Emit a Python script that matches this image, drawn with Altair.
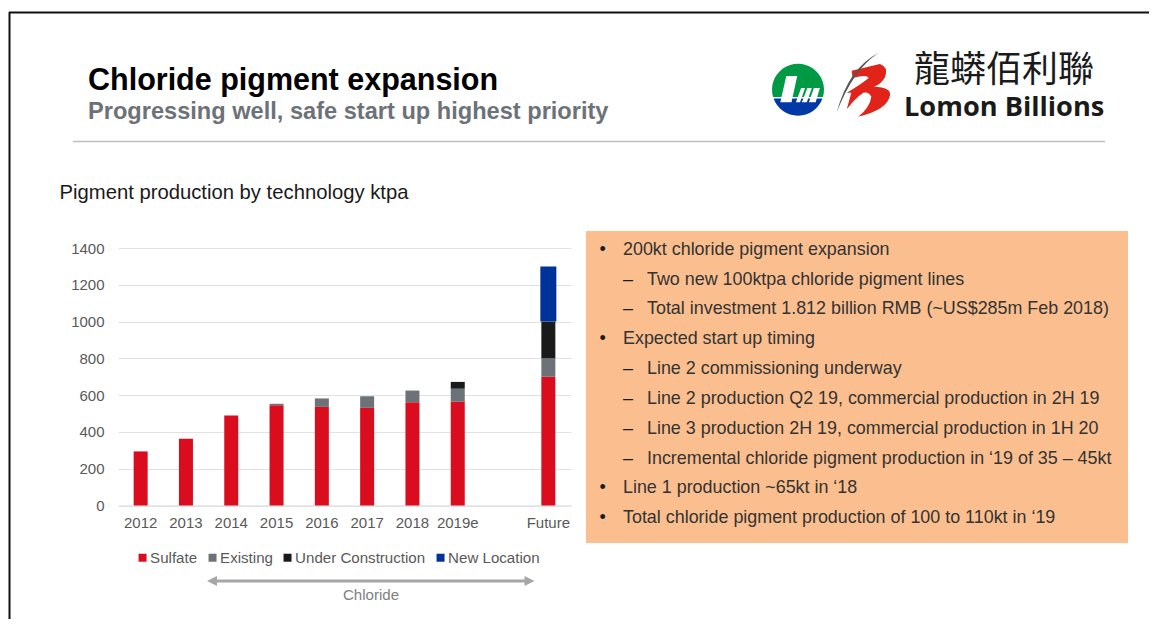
import altair as alt
import pandas as pd

FONT = "Liberation Sans"
categories = ["2012", "2013", "2014", "2015", "2016", "2017", "2018", "2019e", " ", "Future"]
series = ["Sulfate", "Existing", "Under Construction", "New Location"]
sulfate = [294, 363, 489, 545, 536, 531, 562, 564, None, 700]
existing = [0, 0, 0, 8, 46, 63, 63, 71, None, 100]
under_construction = [0, 0, 0, 0, 0, 0, 0, 37, None, 200]
new_location = [0, 0, 0, 0, 0, 0, 0, 0, None, 300]
colors = ["#DA0D1F", "#6D7278", "#1A1A1A", "#003399"]
y_ticks = [0, 200, 400, 600, 800, 1000, 1200, 1400]

bullets = [
    ("•", "200kt chloride pigment expansion", 0),
    ("–", "Two new 100ktpa chloride pigment lines", 1),
    ("–", "Total investment 1.812 billion RMB (~US$285m Feb 2018)", 1),
    ("•", "Expected start up timing", 0),
    ("–", "Line 2 commissioning underway", 1),
    ("–", "Line 2 production Q2 19, commercial production in 2H 19", 1),
    ("–", "Line 3 production 2H 19, commercial production in 1H 20", 1),
    ("–", "Incremental chloride pigment production in ‘19 of 35 – 45kt", 1),
    ("•", "Line 1 production ~65kt in ‘18", 0),
    ("•", "Total chloride pigment production of 100 to 110kt in ‘19", 0),
]
bullet_y = [249.5, 279.5, 308.5, 338.5, 368.5, 398.5, 428.5, 458.5, 487.5, 517.5]

rows = []
for i, c in enumerate(categories):
    for j, (s, vals) in enumerate(zip(series, [sulfate, existing, under_construction, new_location])):
        rows.append({"cat": c, "series": s, "value": vals[i], "k": j})
df = pd.DataFrame(rows)

# plot area is at page x 118..571, y 248..505.5; canvas origin is page (8, 8)
L, T = 118, 248
W, H = 453, 257.5
def px(x): return x - L
def py(y): return y - T

one = pd.DataFrame({"a": [1]})

def text(t, x, y, size, color="#1a1a1a", bold=False, align="left", font=FONT):
    return alt.Chart(one).mark_text(
        text=t, fontSize=size, color=color, font=font, align=align, baseline="middle",
        fontWeight="bold" if bold else "normal", clip=False,
    ).encode(x=alt.value(px(x)), y=alt.value(py(y)))

def rule(x1, y1, x2, y2, color, w):
    return alt.Chart(one).mark_rule(color=color, strokeWidth=w, clip=False).encode(
        x=alt.value(px(x1)), x2=alt.value(px(x2)), y=alt.value(py(y1)), y2=alt.value(py(y2)))

def shape(path, x, y, r, color):
    # a custom symbol path is drawn at a scale of sqrt(size)/2
    return alt.Chart(one).mark_point(
        shape=path, size=4 * r * r, fill=color, filled=True, opacity=1, strokeWidth=0, clip=False,
    ).encode(x=alt.value(px(x)), y=alt.value(py(y)))

bars = alt.Chart(df).mark_bar().encode(
    x=alt.X("cat:N", sort=categories, scale=alt.Scale(domain=categories, paddingInner=0, paddingOuter=0),
            axis=alt.Axis(title=None, labelAngle=0, ticks=False, grid=False, domain=True, domainColor="#E2E2E2",
                          domainWidth=1.5, labelFont=FONT, labelFontSize=15, labelColor="#595959", labelPadding=9.5)),
    y=alt.Y("value:Q", stack="zero", scale=alt.Scale(domain=[0, 1400], nice=False),
            axis=alt.Axis(title=None, values=y_ticks, format="d", ticks=False, domain=False, gridColor="#E2E2E2",
                          gridWidth=1, labelFont=FONT, labelFontSize=15, labelColor="#595959", labelPadding=14)),
    color=alt.Color("series:N", sort=series, scale=alt.Scale(domain=series, range=colors),
                    legend=alt.Legend(title=None, orient="none", legendX=px(135), legendY=py(550), direction="horizontal",
                                      columns=4, symbolType="square", symbolSize=64, symbolStrokeWidth=0, labelFont=FONT,
                                      labelFontSize=15.1, labelColor="#595959", labelOffset=0, columnPadding=7,
                                      padding=0)),
    size=alt.condition("datum.series === 'New Location'", alt.value(16), alt.value(14)),
    order=alt.Order("k:Q"),
    tooltip=alt.value(None),
)

layers = [
    alt.Chart(one).mark_rect(color="#FBBF8F", clip=False).encode(
        x=alt.value(px(586)), x2=alt.value(px(1128)), y=alt.value(py(231)), y2=alt.value(py(543))),
    rule(9, 12.5, 1157, 12.5, "#111111", 2),
    rule(9.5, 12, 9.5, 627, "#111111", 2),
    rule(73, 141.5, 1105, 141.5, "#BFBFBF", 1.5),
    text("Chloride pigment expansion", 88, 80.5, 30.5, "#000000", True),
    text("Progressing well, safe start up highest priority", 88, 111.5, 23.6, "#6D7278", True),
    text("Pigment production by technology ktpa", 59.5, 193, 20.25, "#1a1a1a"),
    bars,
    # Chloride arrow
    rule(212, 581, 529, 581, "#A6A6A6", 3),
    shape("M-1,0L1,-1L1,1Z", 212, 581, 5, "#A6A6A6"),
    shape("M1,0L-1,-1L-1,1Z", 529.5, 581, 5, "#A6A6A6"),
    text("Chloride", 371, 594.5, 15.1, "#7F7F7F", align="center"),
    # green/blue logo
    shape("M-.96,.27A1,1 0 1 1 .96,.27Z", 798, 90, 26, "#009A44"),
    shape("M-.94,.33A1,1 0 0 0 .94,.33Z", 798, 90, 26, "#0038A8"),
    shape("M-.45,-.54L-.03,-.54L-.25,.47L-.68,.47Z"
          "M.12,-.08L.27,-.08L.08,.47L-.08,.47Z"
          "M.36,-.08L.53,-.08L.34,.47L.15,.47Z"
          "M.61,-.08L.84,-.08L.68,.47L.42,.47Z",
          798, 90, 26, "#FFFFFF"),
    # red logo mark
    shape("M-.54,-.72L.52,-.97Q.85,-.85 .72,-.5Q.6,-.25 .3,-.12Q.95,-.1 .9,.2Q.8,.75 -.29,1"
          "Q.15,.65 .2,.25Q.1,.05 -.1,.1Q-.4,.3 -.72,.72L-.55,.1L-.72,.1Q-.2,-.2 .1,-.45Q.05,-.6 -.5,-.45Z",
          866, 90, 26.7, "#E2231A"),
    shape("M.7,-1Q-.3,-.5 -.7,1Q-.15,-.45 .7,-1Z", 857.5, 83, 30, "#555555"),
    text("龍蟒佰利聯", 914, 71, 36, "#1a1a1a", font="Noto Sans CJK TC"),
    text("Lomon Billions", 904, 108, 27.2, "#1a1a1a", True, font="Open Sans"),
]
for (b, t, lv), y in zip(bullets, bullet_y):
    layers.append(text(b, 599.5 if lv == 0 else 623, y, 18, "#1a1a1a"))
    layers.append(text(t, 623 if lv == 0 else 647, y, 17.9, "#333333"))

chart = alt.layer(*layers).properties(
    width=W, height=H,
    autosize=alt.AutoSizeParams(type="none"),
    padding={"left": L - 8, "top": T - 8, "right": 1141 - (L - 8) - W, "bottom": 611 - (T - 8) - H},
).configure_view(stroke=None)

chart.save("out.html", embed_options={"renderer": "svg", "actions": False})
